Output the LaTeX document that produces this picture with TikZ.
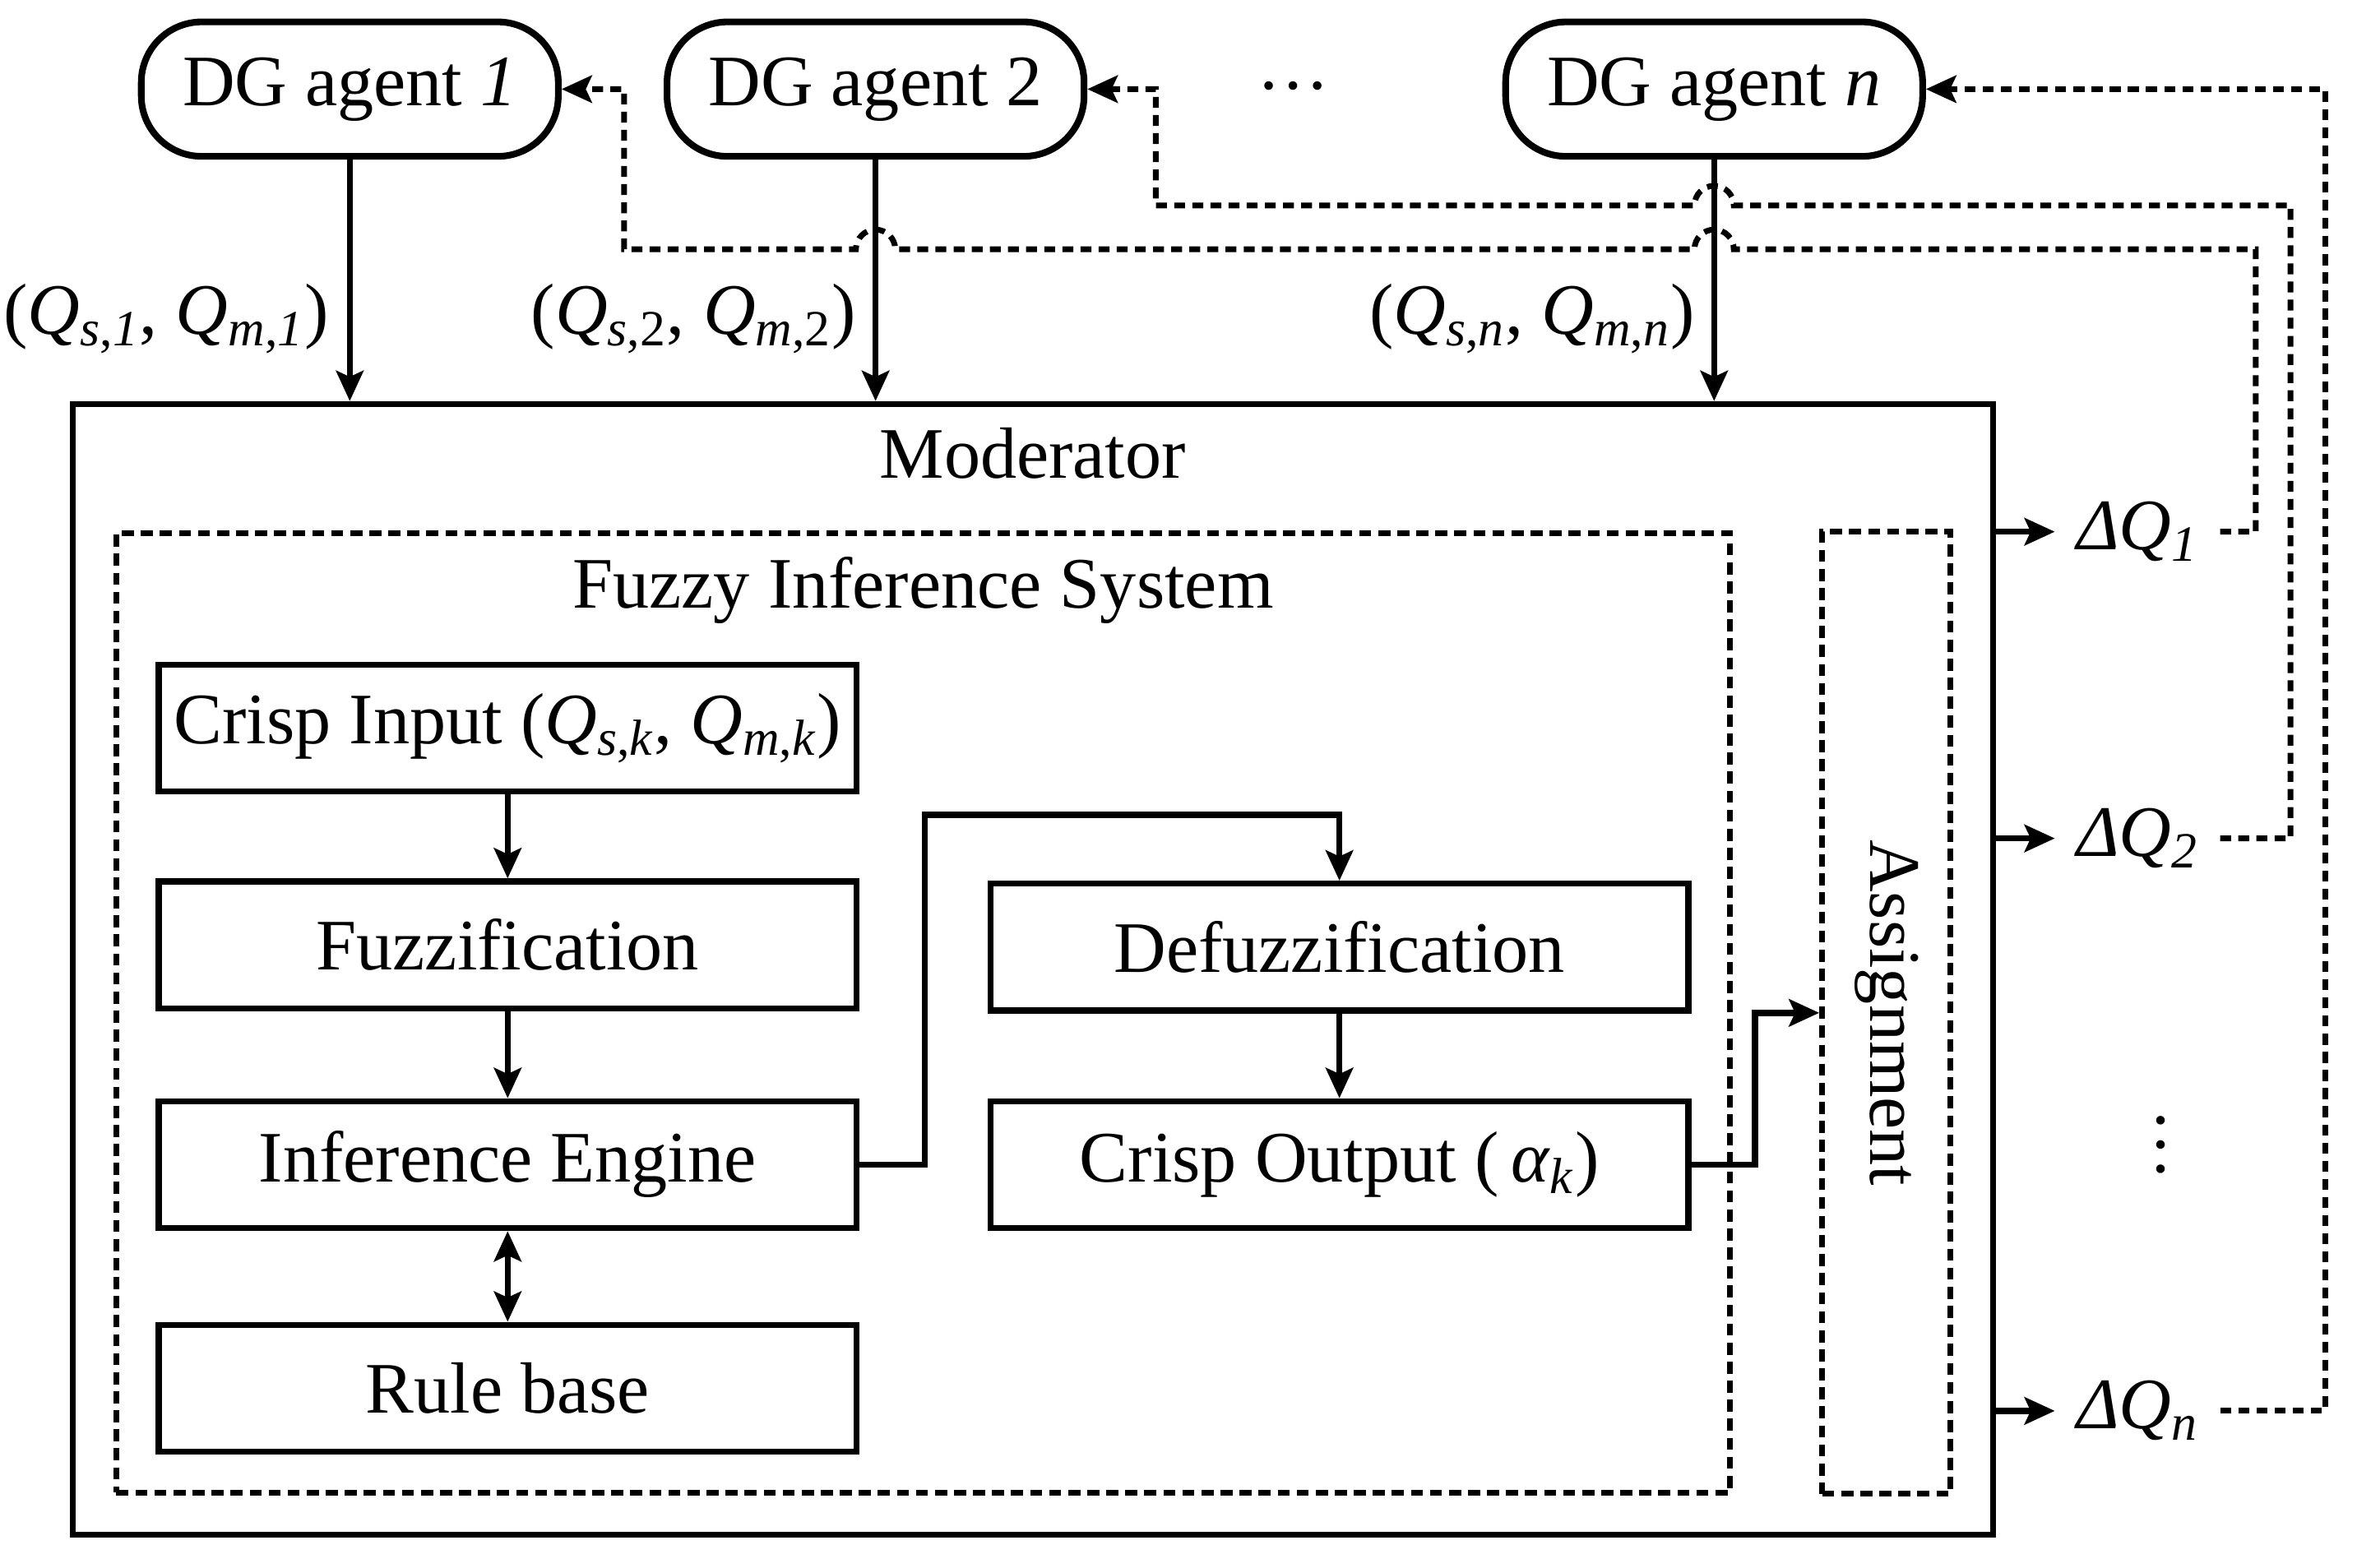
\documentclass[tikz,border=0pt]{standalone}
\usepackage{fontspec}
\setmainfont{Liberation Serif}
\usetikzlibrary{arrows.meta}

\newcommand{\bigtxt}{\fontsize{24pt}{29pt}\selectfont}
\newcommand{\Qsub}[2]{\textit{Q}\textsubscript{#1,#2}}

\begin{document}
\begin{tikzpicture}[x=0.5pt, y=0.5pt,
    >={Stealth[length=10pt, width=9pt, inset=2pt]},
    every node/.style = {font=\bigtxt},
    agent/.style = {draw, line width=2.2pt, rounded corners=20pt,
      minimum width=138pt, minimum height=44.5pt},
    block/.style = {draw, line width=2pt, inner xsep=2pt,
      minimum width=231pt, minimum height=42pt},
    dbox/.style = {draw, line width=1.9pt, dash pattern=on 4pt off 2.3pt},
    arr/.style = {line width=2pt, ->},
    fb/.style = {line width=1.9pt, dash pattern=on 3.6pt off 2.4pt, ->}]
  \useasboundingbox (0,0) rectangle (1560,-1037.5);

  % DG agents
  \node[agent] (ag1) at (231.5,-59) {DG agent \textit{1}};
  \node[agent] (ag2) at (579.5,-59) {DG agent 2};
  \node[agent] (agn) at (1134.5,-59) {DG agent \textit{n}};
  \node (dots) at (856,-57) {…};

  % moderator and fuzzy inference system
  \node[draw, line width=2pt, minimum width=635.5pt, minimum height=374.25pt]
    (mod) at (683.5,-641.75) {};
  \node[anchor=base] (modtitle) at ([yshift=-25.6pt]mod.north) {Moderator};
  \node[dbox, minimum width=534pt, minimum height=317.5pt] (fis) at (611,-670.5) {};
  \node[anchor=base] (fistitle) at ([yshift=-25.75pt]fis.north) {Fuzzy Inference System};

  \node[block] (cin) at (336,-482)
    {Crisp Input (\Qsub{\textit{s}}{\textit{k}}, \Qsub{\textit{m}}{\textit{k}})};
  \node[block] (fuz) at (336,-625.5) {Fuzzification};
  \node[block] (ie) at (336,-771) {Inference Engine};
  \node[block] (rule) at (336,-919) {Rule base};
  \node[block] (defz) at (886.5,-627) {Defuzzification};
  \node[block] (cout) at (886.5,-771) {Crisp Output (\,\textit{α}\textsubscript{\textit{k}})};

  \node[dbox, minimum width=42.5pt, minimum height=318.5pt,
    label={[rotate=-90]center:Assignment}] (asg) at (1248.5,-670.5) {};

  % inputs from the agents
  \draw[arr] (ag1.south) -- (ag1.south |- mod.north)
    node[pos=.66, left=6pt, inner sep=0pt] {(\Qsub{\textit{s}}{\textit{1}}, \Qsub{\textit{m}}{\textit{1}})};
  \draw[arr] (ag2.south) -- (ag2.south |- mod.north)
    node[pos=.66, left=5.5pt, inner sep=0pt] {(\Qsub{\textit{s}}{2}, \Qsub{\textit{m}}{2})};
  \draw[arr] (agn.south) -- (agn.south |- mod.north)
    node[pos=.66, left=5.5pt, inner sep=0pt] {(\Qsub{\textit{s}}{\textit{n}}, \Qsub{\textit{m}}{\textit{n}})};

  % inside the FIS
  \draw[arr] (cin) -- (fuz);
  \draw[arr] (fuz) -- (ie);
  \draw[line width=2pt, <->] (ie) -- (rule);
  \draw[arr] (ie.east) -- ++(43,0) |- ([yshift=21.75pt]defz.north) -- (defz.north);
  \draw[arr] (defz) -- (cout);
  \draw[arr] (cout.east) -- ++(42,0) |- (asg.west);

  % outputs
  \node[anchor=west, inner xsep=7pt] (dq1) at (1360,-352) {\textit{ΔQ}\textsubscript{\textit{1}}};
  \node[anchor=west, inner xsep=7pt] (dq2) at (1360,-555) {\textit{ΔQ}\textsubscript{\textit{2}}};
  \node[anchor=west, inner xsep=7pt] (dqn) at (1360,-934) {\textit{ΔQ}\textsubscript{\textit{n}}};
  \node[rotate=90] (vdots) at (1430,-758) {…};
  \draw[arr] (mod.east |- dq1) -- (dq1.west);
  \draw[arr] (mod.east |- dq2) -- (dq2.west);
  \draw[arr] (mod.east |- dqn) -- (dqn.west);

  % feedback to the agents
  \coordinate (rail1) at (1493,-165);
  \coordinate (rail2) at (1516,-136);
  \draw[fb] (dq1.east) -| (rail1)
    -- ([xshift=6.5pt]agn.south |- rail1) arc[start angle=0, end angle=180, radius=6.5pt]
    -- ([xshift=6.5pt]ag2.south |- rail1) arc[start angle=0, end angle=180, radius=6.5pt]
    -- (413,-165) |- (ag1.east);
  \draw[fb] (dq2.east) -| (rail2)
    -- ([xshift=6.5pt]agn.south |- rail2) arc[start angle=0, end angle=180, radius=6.5pt]
    -- (765,-136) |- (ag2.east);
  \draw[fb] (dqn.east) -| (1539,-59) -- (agn.east);
\end{tikzpicture}
\end{document}
